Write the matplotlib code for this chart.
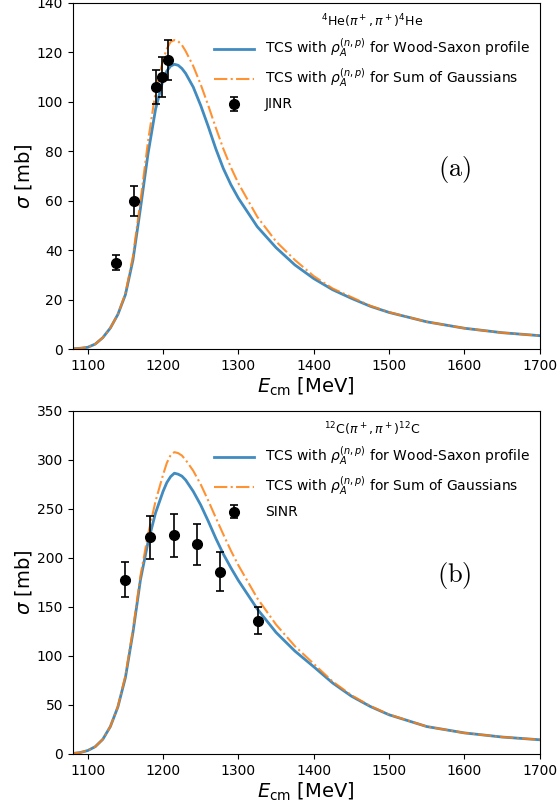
import numpy as np
import matplotlib.pyplot as plt

plt.rcParams['mathtext.fontset'] = 'dejavusans'

# --- Data: 4He(pi+, pi+)4He ---
e_he = [1080, 1090, 1100, 1110, 1120, 1130, 1140, 1150, 1160, 1170, 1180, 1190,
        1200, 1205, 1210, 1215, 1220, 1225, 1230, 1240, 1250, 1260, 1270, 1280,
        1290, 1300, 1325, 1350, 1375, 1400, 1425, 1450, 1475, 1500, 1550, 1600,
        1650, 1700]
ws_he = [0.1, 0.3, 0.7, 2, 4.6, 8.5, 14, 22, 36, 57, 79, 97,
         109, 112.5, 114.5, 115.2, 114.8, 113.5, 111.5, 106, 98.5, 90, 81, 73,
         66.5, 61, 49.5, 41, 34, 28.5, 24, 20.5, 17.3, 14.8, 11, 8.4,
         6.6, 5.4]
sog_he = [0.1, 0.3, 0.7, 2, 4.6, 8.5, 14, 22.5, 37.5, 60, 84, 104,
          117, 121.5, 124.3, 125, 124.5, 123, 120.5, 114.5, 107, 98.5, 89.5, 81,
          73.5, 67, 53.5, 43.5, 36, 29.5, 24.5, 21, 17.5, 14.9, 11, 8.4,
          6.6, 5.4]
jinr_e = [1137, 1161, 1190, 1198, 1207]
jinr_s = [35, 60, 106, 110, 117]
jinr_err = [3, 6, 7, 8, 8]

# --- Data: 12C(pi+, pi+)12C ---
e_c = [1080, 1090, 1100, 1110, 1120, 1130, 1140, 1150, 1160, 1170, 1180, 1190,
       1200, 1205, 1210, 1215, 1220, 1225, 1230, 1240, 1250, 1260, 1270, 1280,
       1290, 1300, 1325, 1350, 1375, 1400, 1425, 1450, 1475, 1500, 1550, 1600,
       1650, 1700]
ws_c = [0.5, 1.5, 3.5, 7.5, 15, 28, 48, 78, 124, 178, 216, 246,
        268, 277, 283, 286.5, 285.5, 283.5, 279.5, 268, 254, 237.5, 220, 204,
        190, 177, 148, 124, 105, 89, 72.5, 59, 48.5, 40, 28, 21.5,
        17.3, 14.5]
sog_c = [0.5, 1.5, 3.5, 7.5, 15, 28, 48.5, 80, 127, 182, 224, 258,
         285, 297, 305, 308, 307, 304.5, 300, 289, 275, 258.5, 241, 224,
         207.5, 192.5, 159, 132, 110, 92, 74, 60, 49, 40.3, 28, 21.5,
         17.3, 14.5]
sinr_e = [1150, 1182, 1214, 1245, 1275, 1326]
sinr_s = [178, 221, 223, 214, 186, 136]
sinr_err = [18, 22, 22, 21, 20, 14]

ws_label = r"TCS with $\rho_A^{(n,p)}$ for Wood-Saxon profile"
sog_label = r"TCS with $\rho_A^{(n,p)}$ for Sum of Gaussians"

fig = plt.figure(figsize=(5.57, 8.09), dpi=100)
ax1 = fig.add_axes([0.1305, 0.5686, 0.8385, 0.4277])
ax2 = fig.add_axes([0.1305, 0.068, 0.8385, 0.424])


def panel(ax, e, ws, sog, de, ds, derr, dlabel, title, tag, ylim, yticks):
    ax.plot(e, ws, '-', color='C0', lw=2, alpha=0.85, label=ws_label)
    ax.plot(e, sog, '-.', color='C1', lw=1.5, alpha=0.85, label=sog_label)
    ax.errorbar(de, ds, yerr=derr, fmt='o', color='black', ms=7,
                capsize=3, elinewidth=1.2, capthick=1.2, label=dlabel)
    ax.set_xlim(1080, 1700)
    ax.set_ylim(*ylim)
    ax.set_yticks(yticks)
    ax.set_xticks([1100, 1200, 1300, 1400, 1500, 1600, 1700])
    ax.set_xlabel(r"$E_{\rm cm}$ [MeV]", fontsize=14, labelpad=2)
    ax.set_ylabel(r"$\sigma$ [mb]", fontsize=14, labelpad=2)
    ax.legend(loc='upper right', frameon=False, fontsize=10,
              title=title, title_fontsize=9, handlelength=2.9,
              borderaxespad=0.3)
    ax.text(0.818, 0.52, tag, transform=ax.transAxes, fontsize=19,
            family='serif', math_fontfamily='cm', ha='center', va='center')


panel(ax1, e_he, ws_he, sog_he, jinr_e, jinr_s, jinr_err, "JINR",
      r"$^{4}$He$(\pi^+,\pi^+)^{4}$He", r"$\mathrm{(a)}$", (0, 140),
      range(0, 141, 20))
panel(ax2, e_c, ws_c, sog_c, sinr_e, sinr_s, sinr_err, "SINR",
      r"$^{12}$C$(\pi^+,\pi^+)^{12}$C", r"$\mathrm{(b)}$", (0, 350),
      range(0, 351, 50))

fig.savefig("out.png", dpi=100)
